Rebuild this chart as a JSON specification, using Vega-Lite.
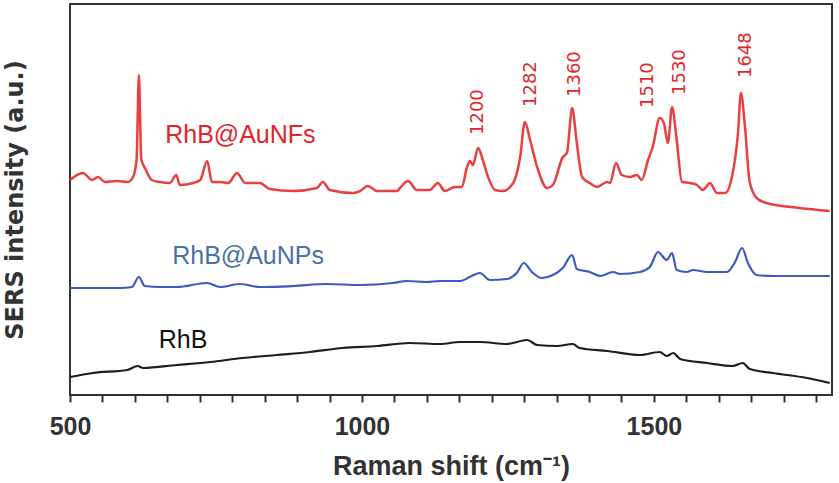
{
  "$schema": "https://vega.github.io/schema/vega-lite/v6.json",
  "width": 762,
  "height": 391,
  "autosize": {"type": "none"},
  "padding": {"left": 70, "top": 4, "right": 7, "bottom": 88},
  "background": "white",
  "config": {"view": {"stroke": "#333333", "strokeWidth": 2}},
  "datasets": {
    "spectra": [
      {"series": "RhB@AuNFs", "shift": 500, "intensity": 215},
      {"series": "RhB@AuNFs", "shift": 522, "intensity": 222},
      {"series": "RhB@AuNFs", "shift": 538, "intensity": 215},
      {"series": "RhB@AuNFs", "shift": 548, "intensity": 218},
      {"series": "RhB@AuNFs", "shift": 560, "intensity": 213},
      {"series": "RhB@AuNFs", "shift": 580, "intensity": 214},
      {"series": "RhB@AuNFs", "shift": 599, "intensity": 213},
      {"series": "RhB@AuNFs", "shift": 608, "intensity": 218},
      {"series": "RhB@AuNFs", "shift": 614, "intensity": 235},
      {"series": "RhB@AuNFs", "shift": 618, "intensity": 320},
      {"series": "RhB@AuNFs", "shift": 622, "intensity": 236},
      {"series": "RhB@AuNFs", "shift": 630, "intensity": 225},
      {"series": "RhB@AuNFs", "shift": 640, "intensity": 215},
      {"series": "RhB@AuNFs", "shift": 654, "intensity": 213},
      {"series": "RhB@AuNFs", "shift": 671, "intensity": 212},
      {"series": "RhB@AuNFs", "shift": 682, "intensity": 220},
      {"series": "RhB@AuNFs", "shift": 688, "intensity": 210},
      {"series": "RhB@AuNFs", "shift": 711, "intensity": 212},
      {"series": "RhB@AuNFs", "shift": 723, "intensity": 215},
      {"series": "RhB@AuNFs", "shift": 735, "intensity": 234},
      {"series": "RhB@AuNFs", "shift": 743, "intensity": 213},
      {"series": "RhB@AuNFs", "shift": 757, "intensity": 213},
      {"series": "RhB@AuNFs", "shift": 771, "intensity": 212},
      {"series": "RhB@AuNFs", "shift": 786, "intensity": 222},
      {"series": "RhB@AuNFs", "shift": 800, "intensity": 212},
      {"series": "RhB@AuNFs", "shift": 825, "intensity": 212},
      {"series": "RhB@AuNFs", "shift": 842, "intensity": 206},
      {"series": "RhB@AuNFs", "shift": 882, "intensity": 204},
      {"series": "RhB@AuNFs", "shift": 923, "intensity": 207},
      {"series": "RhB@AuNFs", "shift": 933, "intensity": 213},
      {"series": "RhB@AuNFs", "shift": 945, "intensity": 205},
      {"series": "RhB@AuNFs", "shift": 985, "intensity": 202},
      {"series": "RhB@AuNFs", "shift": 997, "intensity": 204},
      {"series": "RhB@AuNFs", "shift": 1010, "intensity": 209},
      {"series": "RhB@AuNFs", "shift": 1026, "intensity": 204},
      {"series": "RhB@AuNFs", "shift": 1060, "intensity": 204},
      {"series": "RhB@AuNFs", "shift": 1065, "intensity": 207},
      {"series": "RhB@AuNFs", "shift": 1079, "intensity": 214},
      {"series": "RhB@AuNFs", "shift": 1094, "intensity": 205},
      {"series": "RhB@AuNFs", "shift": 1116, "intensity": 205},
      {"series": "RhB@AuNFs", "shift": 1130, "intensity": 212},
      {"series": "RhB@AuNFs", "shift": 1142, "intensity": 204},
      {"series": "RhB@AuNFs", "shift": 1159, "intensity": 208},
      {"series": "RhB@AuNFs", "shift": 1171, "intensity": 208},
      {"series": "RhB@AuNFs", "shift": 1180, "intensity": 228},
      {"series": "RhB@AuNFs", "shift": 1185, "intensity": 234},
      {"series": "RhB@AuNFs", "shift": 1190, "intensity": 230},
      {"series": "RhB@AuNFs", "shift": 1199, "intensity": 247},
      {"series": "RhB@AuNFs", "shift": 1207, "intensity": 235},
      {"series": "RhB@AuNFs", "shift": 1216, "intensity": 218},
      {"series": "RhB@AuNFs", "shift": 1228, "intensity": 205},
      {"series": "RhB@AuNFs", "shift": 1241, "intensity": 204},
      {"series": "RhB@AuNFs", "shift": 1259, "intensity": 212},
      {"series": "RhB@AuNFs", "shift": 1271, "intensity": 238},
      {"series": "RhB@AuNFs", "shift": 1279, "intensity": 273},
      {"series": "RhB@AuNFs", "shift": 1288, "intensity": 255},
      {"series": "RhB@AuNFs", "shift": 1300, "intensity": 228},
      {"series": "RhB@AuNFs", "shift": 1317, "intensity": 207},
      {"series": "RhB@AuNFs", "shift": 1327, "intensity": 210},
      {"series": "RhB@AuNFs", "shift": 1344, "intensity": 238},
      {"series": "RhB@AuNFs", "shift": 1351, "intensity": 242},
      {"series": "RhB@AuNFs", "shift": 1360, "intensity": 287},
      {"series": "RhB@AuNFs", "shift": 1368, "intensity": 252},
      {"series": "RhB@AuNFs", "shift": 1377, "intensity": 218},
      {"series": "RhB@AuNFs", "shift": 1390, "intensity": 212},
      {"series": "RhB@AuNFs", "shift": 1402, "intensity": 208},
      {"series": "RhB@AuNFs", "shift": 1420, "intensity": 213},
      {"series": "RhB@AuNFs", "shift": 1425, "intensity": 212},
      {"series": "RhB@AuNFs", "shift": 1435, "intensity": 232},
      {"series": "RhB@AuNFs", "shift": 1445, "intensity": 220},
      {"series": "RhB@AuNFs", "shift": 1459, "intensity": 218},
      {"series": "RhB@AuNFs", "shift": 1471, "intensity": 220},
      {"series": "RhB@AuNFs", "shift": 1479, "intensity": 215},
      {"series": "RhB@AuNFs", "shift": 1490, "intensity": 235},
      {"series": "RhB@AuNFs", "shift": 1498, "intensity": 248},
      {"series": "RhB@AuNFs", "shift": 1510, "intensity": 277},
      {"series": "RhB@AuNFs", "shift": 1517, "intensity": 272},
      {"series": "RhB@AuNFs", "shift": 1524, "intensity": 252},
      {"series": "RhB@AuNFs", "shift": 1531, "intensity": 288},
      {"series": "RhB@AuNFs", "shift": 1539, "intensity": 255},
      {"series": "RhB@AuNFs", "shift": 1548, "intensity": 213},
      {"series": "RhB@AuNFs", "shift": 1562, "intensity": 212},
      {"series": "RhB@AuNFs", "shift": 1574, "intensity": 210},
      {"series": "RhB@AuNFs", "shift": 1584, "intensity": 205},
      {"series": "RhB@AuNFs", "shift": 1596, "intensity": 212},
      {"series": "RhB@AuNFs", "shift": 1608, "intensity": 202},
      {"series": "RhB@AuNFs", "shift": 1622, "intensity": 202},
      {"series": "RhB@AuNFs", "shift": 1635, "intensity": 222},
      {"series": "RhB@AuNFs", "shift": 1644, "intensity": 262},
      {"series": "RhB@AuNFs", "shift": 1649, "intensity": 302},
      {"series": "RhB@AuNFs", "shift": 1656, "intensity": 268},
      {"series": "RhB@AuNFs", "shift": 1664, "intensity": 213},
      {"series": "RhB@AuNFs", "shift": 1676, "intensity": 197},
      {"series": "RhB@AuNFs", "shift": 1693, "intensity": 192},
      {"series": "RhB@AuNFs", "shift": 1750, "intensity": 187},
      {"series": "RhB@AuNFs", "shift": 1801, "intensity": 184},

      {"series": "RhB@AuNPs", "shift": 500, "intensity": 107},
      {"series": "RhB@AuNPs", "shift": 539, "intensity": 107},
      {"series": "RhB@AuNPs", "shift": 586, "intensity": 107},
      {"series": "RhB@AuNPs", "shift": 606, "intensity": 108},
      {"series": "RhB@AuNPs", "shift": 618, "intensity": 118},
      {"series": "RhB@AuNPs", "shift": 628, "intensity": 109},
      {"series": "RhB@AuNPs", "shift": 654, "intensity": 108},
      {"series": "RhB@AuNPs", "shift": 683, "intensity": 108},
      {"series": "RhB@AuNPs", "shift": 735, "intensity": 112},
      {"series": "RhB@AuNPs", "shift": 757, "intensity": 108},
      {"series": "RhB@AuNPs", "shift": 791, "intensity": 111},
      {"series": "RhB@AuNPs", "shift": 825, "intensity": 108},
      {"series": "RhB@AuNPs", "shift": 882, "intensity": 109},
      {"series": "RhB@AuNPs", "shift": 940, "intensity": 111},
      {"series": "RhB@AuNPs", "shift": 997, "intensity": 110},
      {"series": "RhB@AuNPs", "shift": 1053, "intensity": 112},
      {"series": "RhB@AuNPs", "shift": 1077, "intensity": 114},
      {"series": "RhB@AuNPs", "shift": 1111, "intensity": 113},
      {"series": "RhB@AuNPs", "shift": 1134, "intensity": 114},
      {"series": "RhB@AuNPs", "shift": 1168, "intensity": 114},
      {"series": "RhB@AuNPs", "shift": 1188, "intensity": 119},
      {"series": "RhB@AuNPs", "shift": 1202, "intensity": 122},
      {"series": "RhB@AuNPs", "shift": 1219, "intensity": 115},
      {"series": "RhB@AuNPs", "shift": 1248, "intensity": 116},
      {"series": "RhB@AuNPs", "shift": 1265, "intensity": 122},
      {"series": "RhB@AuNPs", "shift": 1277, "intensity": 132},
      {"series": "RhB@AuNPs", "shift": 1291, "intensity": 123},
      {"series": "RhB@AuNPs", "shift": 1308, "intensity": 117},
      {"series": "RhB@AuNPs", "shift": 1327, "intensity": 120},
      {"series": "RhB@AuNPs", "shift": 1344, "intensity": 127},
      {"series": "RhB@AuNPs", "shift": 1360, "intensity": 140},
      {"series": "RhB@AuNPs", "shift": 1368, "intensity": 126},
      {"series": "RhB@AuNPs", "shift": 1390, "intensity": 123},
      {"series": "RhB@AuNPs", "shift": 1408, "intensity": 119},
      {"series": "RhB@AuNPs", "shift": 1430, "intensity": 123},
      {"series": "RhB@AuNPs", "shift": 1442, "intensity": 121},
      {"series": "RhB@AuNPs", "shift": 1476, "intensity": 123},
      {"series": "RhB@AuNPs", "shift": 1493, "intensity": 128},
      {"series": "RhB@AuNPs", "shift": 1507, "intensity": 143},
      {"series": "RhB@AuNPs", "shift": 1522, "intensity": 135},
      {"series": "RhB@AuNPs", "shift": 1531, "intensity": 142},
      {"series": "RhB@AuNPs", "shift": 1539, "intensity": 125},
      {"series": "RhB@AuNPs", "shift": 1556, "intensity": 123},
      {"series": "RhB@AuNPs", "shift": 1567, "intensity": 125},
      {"series": "RhB@AuNPs", "shift": 1591, "intensity": 123},
      {"series": "RhB@AuNPs", "shift": 1625, "intensity": 123},
      {"series": "RhB@AuNPs", "shift": 1639, "intensity": 133},
      {"series": "RhB@AuNPs", "shift": 1651, "intensity": 147},
      {"series": "RhB@AuNPs", "shift": 1661, "intensity": 132},
      {"series": "RhB@AuNPs", "shift": 1676, "intensity": 120},
      {"series": "RhB@AuNPs", "shift": 1704, "intensity": 119},
      {"series": "RhB@AuNPs", "shift": 1762, "intensity": 119},
      {"series": "RhB@AuNPs", "shift": 1801, "intensity": 119},

      {"series": "RhB", "shift": 500, "intensity": 18},
      {"series": "RhB", "shift": 539, "intensity": 22},
      {"series": "RhB", "shift": 598, "intensity": 25},
      {"series": "RhB", "shift": 616, "intensity": 29},
      {"series": "RhB", "shift": 625, "intensity": 27},
      {"series": "RhB", "shift": 683, "intensity": 30},
      {"series": "RhB", "shift": 740, "intensity": 33},
      {"series": "RhB", "shift": 796, "intensity": 37},
      {"series": "RhB", "shift": 854, "intensity": 40},
      {"series": "RhB", "shift": 911, "intensity": 43},
      {"series": "RhB", "shift": 967, "intensity": 47},
      {"series": "RhB", "shift": 1026, "intensity": 49},
      {"series": "RhB", "shift": 1082, "intensity": 52},
      {"series": "RhB", "shift": 1134, "intensity": 51},
      {"series": "RhB", "shift": 1168, "intensity": 53},
      {"series": "RhB", "shift": 1202, "intensity": 53},
      {"series": "RhB", "shift": 1248, "intensity": 51},
      {"series": "RhB", "shift": 1283, "intensity": 55},
      {"series": "RhB", "shift": 1300, "intensity": 50},
      {"series": "RhB", "shift": 1334, "intensity": 49},
      {"series": "RhB", "shift": 1361, "intensity": 51},
      {"series": "RhB", "shift": 1373, "intensity": 47},
      {"series": "RhB", "shift": 1420, "intensity": 44},
      {"series": "RhB", "shift": 1476, "intensity": 40},
      {"series": "RhB", "shift": 1510, "intensity": 43},
      {"series": "RhB", "shift": 1522, "intensity": 39},
      {"series": "RhB", "shift": 1533, "intensity": 42},
      {"series": "RhB", "shift": 1545, "intensity": 36},
      {"series": "RhB", "shift": 1591, "intensity": 32},
      {"series": "RhB", "shift": 1635, "intensity": 29},
      {"series": "RhB", "shift": 1652, "intensity": 32},
      {"series": "RhB", "shift": 1664, "intensity": 26},
      {"series": "RhB", "shift": 1704, "intensity": 22},
      {"series": "RhB", "shift": 1762, "intensity": 17},
      {"series": "RhB", "shift": 1801, "intensity": 12}
    ],
    "peaks": [
      {"label": "1200", "shift": 1199, "intensity": 260},
      {"label": "1282", "shift": 1289, "intensity": 288},
      {"label": "1360", "shift": 1365, "intensity": 298},
      {"label": "1510", "shift": 1490, "intensity": 287},
      {"label": "1530", "shift": 1545, "intensity": 300},
      {"label": "1648", "shift": 1657, "intensity": 317}
    ],
    "names": [
      {"series": "RhB@AuNFs", "shift": 663, "intensity": 260},
      {"series": "RhB@AuNPs", "shift": 675, "intensity": 139},
      {"series": "RhB", "shift": 652, "intensity": 55}
    ]
  },
  "encoding": {
    "x": {
      "field": "shift",
      "type": "quantitative",
      "scale": {"domain": [500, 1805], "nice": false, "zero": false},
      "axis": {
        "values": [500, 555.56, 611.11, 666.67, 722.22, 777.78, 833.33, 888.89, 944.44, 1000, 1055.56, 1111.11, 1166.67, 1222.22, 1277.78, 1333.33, 1388.89, 1444.44, 1500, 1555.56, 1611.11, 1666.67, 1722.22, 1777.78],
        "format": "d",
        "labelExpr": "datum.value % 500 == 0 ? datum.label : ''",
        "tickSize": 7,
        "tickWidth": 2,
        "tickColor": "#333333",
        "domain": false,
        "grid": false,
        "labelFont": "Liberation Sans",
        "labelFontWeight": "bold",
        "labelFontSize": 25,
        "labelColor": "#333333",
        "labelPadding": 12,
        "labelFlush": false,
        "labelOverlap": false,
        "title": "Raman shift (cm⁻¹)",
        "titleFont": "Liberation Sans",
        "titleFontSize": 27,
        "titleFontWeight": "bold",
        "titleColor": "#333333",
        "titlePadding": 14
      }
    },
    "y": {
      "field": "intensity",
      "type": "quantitative",
      "scale": {"domain": [0, 391], "nice": false, "zero": false},
      "axis": {
        "ticks": false,
        "labels": false,
        "domain": false,
        "grid": false,
        "title": "SERS intensity (a.u.)",
        "titleFont": "DejaVu Sans",
        "titleFontSize": 24,
        "titleFontWeight": "bold",
        "titleColor": "#333333",
        "titlePadding": 43
      }
    }
  },
  "layer": [
    {
      "data": {"name": "spectra"},
      "transform": [{"filter": "datum.series == 'RhB'"}],
      "mark": {"type": "line", "interpolate": "monotone", "color": "#1e1e1e", "strokeWidth": 2.2}
    },
    {
      "data": {"name": "spectra"},
      "transform": [{"filter": "datum.series == 'RhB@AuNPs'"}],
      "mark": {"type": "line", "interpolate": "monotone", "color": "#3a5cbf", "strokeWidth": 2.2}
    },
    {
      "data": {"name": "spectra"},
      "transform": [{"filter": "datum.series == 'RhB@AuNFs'"}],
      "mark": {"type": "line", "interpolate": "monotone", "color": "#e8403f", "strokeWidth": 2.5}
    },
    {
      "data": {"name": "peaks"},
      "mark": {"type": "text", "angle": 270, "align": "left", "baseline": "middle", "font": "DejaVu Sans", "fontSize": 18, "color": "#e2262a"},
      "encoding": {"text": {"field": "label", "type": "nominal"}}
    },
    {
      "data": {"name": "names"},
      "mark": {"type": "text", "align": "left", "baseline": "middle", "font": "Liberation Sans", "fontSize": 25},
      "encoding": {
        "text": {"field": "series", "type": "nominal"},
        "color": {
          "field": "series",
          "type": "nominal",
          "scale": {"domain": ["RhB@AuNFs", "RhB@AuNPs", "RhB"], "range": ["#e3232a", "#4a70a8", "#111111"]},
          "legend": null
        }
      }
    }
  ]
}
